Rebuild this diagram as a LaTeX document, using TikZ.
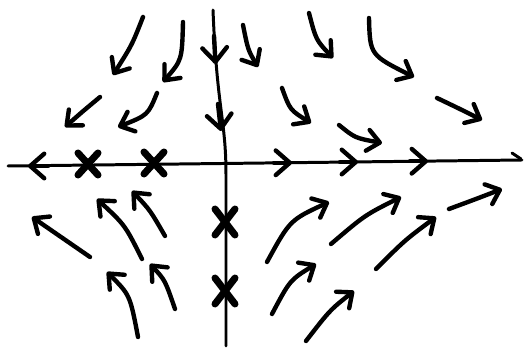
\documentclass[tikz,border=0pt]{standalone}
\usepackage{tikz}
\usetikzlibrary{arrows.meta}

\tikzset{
  axis/.style={line width=1.7pt, line cap=round},
  flow/.style={line width=2.5pt, line cap=round,
    -{Straight Barb[length=7pt, width=12pt, round]}},
  axtip/.style={line width=2.5pt, line cap=round,
    -{Straight Barb[length=8pt, width=14pt, round]}},
  cross/.style={line width=4pt, line cap=round}
}

\begin{document}
\begin{tikzpicture}[x=0.02cm, y=-0.02cm]
  \useasboundingbox (0,0) rectangle (529,348);

  % Axes
  \draw[axis] (8,166) -- (522,160);
  \draw[axis] (512,153) -- (521,159);
  \draw[axis] (213,10) .. controls (217,110) and (226,120) .. (226,175) -- (226,346);

  % Arrows on the axes
  \draw[axtip] (48,166) -- (28,166);
  \foreach \xs/\xe/\yy in {274/292/162.8, 340/358/162, 410/428/161.2}
    \draw[axtip] (\xs,\yy) -- (\xe,\yy);
  \draw[axtip] (214,36) -- (215.5,64);
  \draw[axtip] (218,104) -- (221,131);

  % Equilibria
  \foreach \cx/\cy in {88/164, 154/163}
    \draw[cross] (\cx-10,\cy-11) -- (\cx+10,\cy+11) (\cx+10,\cy-11) -- (\cx-10,\cy+11);
  \foreach \cx/\cy in {225/222, 225/291}
    \draw[cross] (\cx-10,\cy-13) -- (\cx+10,\cy+13) (\cx+10,\cy-13) -- (\cx-10,\cy+13);

  % Flow above the axis
  \foreach \xa/\ya/\xc/\yc/\xb/\yb in {
      143/17/132/45/113/75, 183/22/182/60/163/82,
      100/97/82/112/65/127, 157/93/148/115/118/127,
      243/25/248/50/258/67, 309/13/316/40/333/58,
      369/18/370/55/414/77, 282/88/290/110/311/123,
      339/125/355/138/382/143, 437/98/460/109/482/120}
    \draw[flow] (\xa,\ya) .. controls (\xc,\yc) .. (\xb,\yb);

  % Flow below the axis
  \foreach \xa/\ya/\xc/\yc/\xb/\yb in {
      90/257/61/237/32/217, 142/259/125/225/97/199,
      165/236/150/210/132/191, 138/337/130/295/107/272,
      175/309/165/280/150/264,
      267/262/290/220/329/202, 331/244/365/215/401/197,
      449/209/476/199/502/189, 376/269/405/240/436/217,
      272/314/290/280/316/264, 306/341/330/310/354/291}
    \draw[flow] (\xa,\ya) .. controls (\xc,\yc) .. (\xb,\yb);
\end{tikzpicture}
\end{document}
